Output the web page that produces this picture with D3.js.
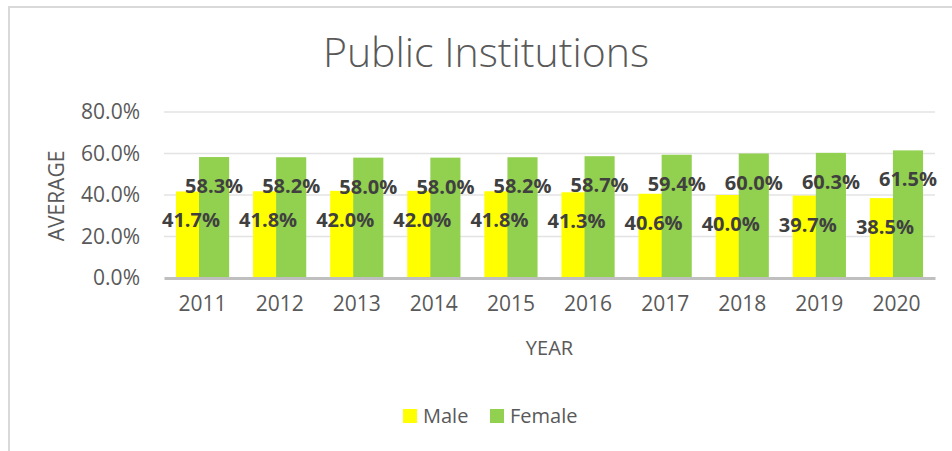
<!DOCTYPE html>
<html>
<head>
<meta charset="utf-8">
<script src="https://cdn.jsdelivr.net/npm/d3@7"></script>
<style>
  body { margin: 0; background: #fff; }
  svg { display: block; font-family: "Open Sans", sans-serif; }
</style>
</head>
<body>
<div id="container"></div>
<script>
const years = ["2011", "2012", "2013", "2014", "2015", "2016", "2017", "2018", "2019", "2020"];
const male = [41.7, 41.8, 42.0, 42.0, 41.8, 41.3, 40.6, 40.0, 39.7, 38.5];
const female = [58.3, 58.2, 58.0, 58.0, 58.2, 58.7, 59.4, 60.0, 60.3, 61.5];
const yTicks = [0, 20, 40, 60, 80];
const seriesNames = ["Male", "Female"];
const colors = ["#ffff00", "#92d050"];

const w = 952, h = 451;
const margin = {top: 112, left: 164, bottom: 173, right: 17};

const svg = d3.select("#container").append("svg").attr("width", w).attr("height", h);
svg.append("rect").attr("width", w).attr("height", h).attr("fill", "#fff");

// chart frame (only top and left edges fall inside the picture)
svg.append("path")
    .attr("d", `M9,${h} L9,7 L${w},7`)
    .attr("fill", "none").attr("stroke", "#d9d9d9").attr("stroke-width", 2);

const xScale = d3.scaleBand().domain(years).range([margin.left, w - margin.right]);
const yScale = d3.scaleLinear().domain([0, 80]).range([h - margin.bottom, margin.top]);

// grid
svg.append("g").selectAll("line")
    .data(yTicks.filter(t => t > 0))
    .enter().append("line")
    .attr("x1", margin.left).attr("x2", w - margin.right)
    .attr("y1", d => yScale(d)).attr("y2", d => yScale(d))
    .attr("stroke", "#e3e3e3").attr("stroke-width", 1.5);

// y axis labels
const yAxis = d3.axisLeft(yScale).tickValues(yTicks).tickFormat(d => d.toFixed(1) + "%").tickSize(0).tickPadding(24);
const yg = svg.append("g").attr("transform", `translate(${margin.left},0)`).call(yAxis);
yg.select(".domain").remove();
yg.selectAll("text").attr("font-size", 21).attr("fill", "#595959").attr("font-family", "Open Sans");

// bars
const groupW = xScale.bandwidth() * 0.69;
const barW = groupW * 0.566;
const barX = (year, s) => {
  const c = xScale(year) + xScale.bandwidth() / 2;
  return s === 0 ? c - groupW / 2 : c + groupW / 2 - barW;
};

[male, female].forEach((vals, s) => {
  svg.append("g").selectAll("rect")
      .data(vals)
      .enter().append("rect")
      .attr("x", (d, i) => barX(years[i], s))
      .attr("y", d => yScale(d))
      .attr("width", barW)
      .attr("height", d => yScale(0) - yScale(d))
      .attr("fill", colors[s]);
});

// x axis
const xAxis = d3.axisBottom(xScale).tickSize(0).tickPadding(18);
const xg = svg.append("g").attr("transform", `translate(0,${yScale(0)})`).call(xAxis);
xg.select(".domain").attr("stroke", "#bfbfbf").attr("stroke-width", 3);
xg.selectAll("text").attr("font-size", 21).attr("fill", "#595959").attr("font-family", "Open Sans");

// data labels
[male, female].forEach((vals, s) => {
  svg.append("g").selectAll("text")
      .data(vals)
      .enter().append("text")
      .attr("x", (d, i) => barX(years[i], s) + barW / 2)
      .attr("y", d => yScale(d) + 36)
      .attr("text-anchor", "middle")
      .attr("font-family", "Open Sans")
      .attr("font-weight", "bold")
      .attr("font-size", 20)
      .attr("fill", "#404040")
      .text(d => d.toFixed(1) + "%");
});

// title
svg.append("text")
    .attr("x", 486).attr("y", 67)
    .attr("text-anchor", "middle")
    .attr("font-size", 41).attr("font-weight", 300)
    .attr("fill", "#595959")
    .text("Public Institutions");

// axis titles
svg.append("text")
    .attr("x", (margin.left + w - margin.right) / 2).attr("y", 355)
    .attr("text-anchor", "middle")
    .attr("font-size", 20).attr("fill", "#595959")
    .text("YEAR");

svg.append("text")
    .attr("transform", `translate(64,${196}) rotate(-90)`)
    .attr("text-anchor", "middle")
    .attr("font-size", 21).attr("fill", "#595959")
    .text("AVERAGE");

// legend
const legend = svg.append("g").attr("transform", "translate(403,409)");
const legendX = [0, 87];
seriesNames.forEach((name, i) => {
  const g = legend.append("g").attr("transform", `translate(${legendX[i]},0)`);
  g.append("rect").attr("width", 14).attr("height", 14).attr("fill", colors[i]);
  g.append("text").attr("x", 20).attr("y", 14)
      .attr("font-size", 20).attr("fill", "#595959")
      .text(name);
});
</script>
</body>
</html>
